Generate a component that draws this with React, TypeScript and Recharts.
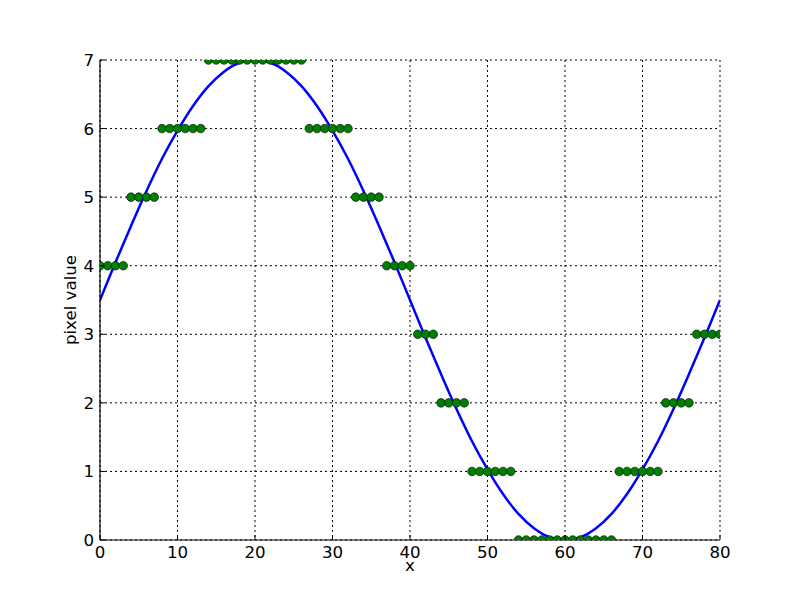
import { ComposedChart, Line, Scatter, XAxis, YAxis, CartesianGrid } from "recharts";

const xTicks = [0, 10, 20, 30, 40, 50, 60, 70, 80];
const yTicks = [0, 1, 2, 3, 4, 5, 6, 7];

// quantized pixel value at each x = 0..80
const pixelValues = [
  4, 4, 4, 4, 5, 5, 5, 5, 6, 6, 6, 6, 6, 6, 7, 7, 7, 7, 7, 7, 7,
  7, 7, 7, 7, 7, 7, 6, 6, 6, 6, 6, 6, 5, 5, 5, 5, 4, 4, 4, 4,
  3, 3, 3, 2, 2, 2, 2, 1, 1, 1, 1, 1, 1, 0, 0, 0, 0, 0, 0, 0,
  0, 0, 0, 0, 0, 0, 1, 1, 1, 1, 1, 1, 2, 2, 2, 2, 3, 3, 3, 3,
];

// smooth curve, read every 2 units of x
const curveX = [
  0, 2, 4, 6, 8, 10, 12, 14, 16, 18, 20, 22, 24, 26, 28, 30, 32, 34, 36, 38, 40,
  42, 44, 46, 48, 50, 52, 54, 56, 58, 60, 62, 64, 66, 68, 70, 72, 74, 76, 78, 80,
];
const curveY = [
  3.5, 4.05, 4.58, 5.09, 5.56, 5.97, 6.33, 6.62, 6.83, 6.96, 7.0,
  6.96, 6.83, 6.62, 6.33, 5.97, 5.56, 5.09, 4.58, 4.05, 3.5,
  2.95, 2.42, 1.91, 1.44, 1.03, 0.67, 0.38, 0.17, 0.04, 0.0,
  0.04, 0.17, 0.38, 0.67, 1.03, 1.44, 1.91, 2.42, 2.95, 3.5,
];

const dots = pixelValues.map((v, i) => ({ x: i, value: v }));
const curve = curveX.map((x, i) => ({ x, value: curveY[i] }));

const FONT = "DejaVu Sans";
const FS = 16.67;
const PAD = 6;
const TICK = 5;

const BottomTick = ({ x, y, payload }: any) => (
  <g>
    <line x1={x} x2={x} y1={y - PAD} y2={y - PAD - TICK} stroke="#000" />
    <text x={x} y={y} dy="0.72em" textAnchor="middle" fontFamily={FONT} fontSize={FS} fill="#000">
      {payload.value}
    </text>
  </g>
);

const LeftTick = ({ x, y, payload }: any) => (
  <g>
    <line x1={x + PAD} x2={x + PAD + TICK} y1={y} y2={y} stroke="#000" />
    <text x={x} y={y} dy="0.36em" textAnchor="end" fontFamily={FONT} fontSize={FS} fill="#000">
      {payload.value}
    </text>
  </g>
);

const TopTick = ({ x, y }: any) => (
  <line x1={x} x2={x} y1={y + PAD} y2={y + PAD + TICK} stroke="#000" />
);

const RightTick = ({ x, y }: any) => (
  <line x1={x - PAD} x2={x - PAD - TICK} y1={y} y2={y} stroke="#000" />
);

const Dot = (p: any) => (
  <circle cx={p.cx} cy={p.cy} r={4.3} fill="#008000" stroke="#000" strokeWidth={0.6} />
);

export default function App() {
  return (
    <div style={{ position: "absolute", left: 0, top: 0, width: 800, height: 600, background: "#fff" }}>
      <ComposedChart width={800} height={600} margin={{ top: 60, right: 80, bottom: 20, left: 60 }}>
        <XAxis
          dataKey="x"
          type="number"
          domain={[0, 80]}
          ticks={xTicks}
          allowDataOverflow
          height={40}
          tickSize={0}
          tickMargin={PAD}
          tick={<BottomTick />}
          axisLine={{ stroke: "#000", strokeWidth: 1.2 }}
          label={{ value: "x", position: "insideBottom", offset: 9, fontFamily: FONT, fontSize: FS, fill: "#000" }}
        />
        <XAxis
          xAxisId="top"
          orientation="top"
          dataKey="x"
          type="number"
          domain={[0, 80]}
          ticks={xTicks}
          height={0}
          tickSize={0}
          tickMargin={PAD}
          tick={<TopTick />}
          axisLine={{ stroke: "#000", strokeWidth: 1.2 }}
        />
        <YAxis
          type="number"
          domain={[0, 7]}
          ticks={yTicks}
          allowDataOverflow
          width={40}
          tickSize={0}
          tickMargin={PAD}
          tick={<LeftTick />}
          axisLine={{ stroke: "#000", strokeWidth: 1.2 }}
          label={{
            value: "pixel value",
            angle: -90,
            position: "insideLeft",
            offset: 10,
            fontFamily: FONT,
            fontSize: FS,
            fill: "#000",
            style: { textAnchor: "middle" },
          }}
        />
        <YAxis
          yAxisId="right"
          orientation="right"
          type="number"
          domain={[0, 7]}
          ticks={yTicks}
          width={0}
          tickSize={0}
          tickMargin={PAD}
          tick={<RightTick />}
          axisLine={{ stroke: "#000", strokeWidth: 1.2 }}
        />
        <Scatter data={dots} dataKey="value" shape={Dot} isAnimationActive={false} />
        <CartesianGrid stroke="#000" strokeWidth={1} strokeDasharray="2 3" />
        <Line
          data={curve}
          dataKey="value"
          type="monotone"
          stroke="#0000ff"
          strokeWidth={2.5}
          dot={false}
          activeDot={false}
          isAnimationActive={false}
        />
      </ComposedChart>
    </div>
  );
}
